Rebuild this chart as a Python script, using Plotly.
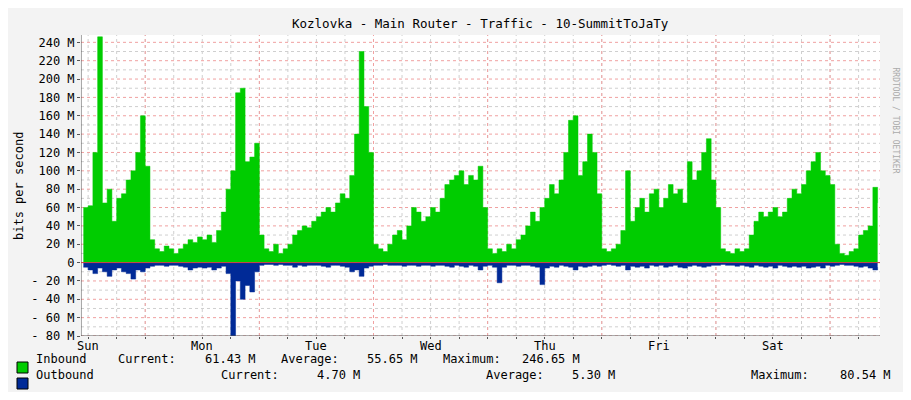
import plotly.graph_objects as go

# hourly values in M bits/s, hour -1 .. 166 (Sun label = hour 0)
inbound = [
    60, 62, 120, 246, 65, 80, 45, 70, 75, 90, 100, 120, 160, 105, 25, 15, 12, 18, 15, 10, 15, 20, 25, 22,
    28, 25, 30, 22, 35, 55, 80, 100, 185, 190, 110, 115, 130, 30, 15, 12, 20, 10, 15, 20, 30, 35, 40, 38,
    45, 50, 55, 60, 55, 65, 75, 70, 95, 140, 230, 170, 120, 20, 15, 12, 20, 30, 35, 25, 40, 60, 55, 45,
    50, 60, 55, 70, 85, 90, 95, 100, 85, 95, 90, 105, 60, 15, 10, 15, 12, 20, 15, 25, 30, 40, 55, 45,
    60, 70, 85, 75, 90, 120, 155, 160, 95, 110, 140, 120, 75, 15, 12, 15, 20, 35, 100, 45, 60, 70, 55, 75,
    80, 60, 70, 85, 75, 80, 65, 110, 90, 100, 120, 135, 90, 60, 15, 12, 10, 15, 12, 15, 30, 45, 55, 50,
    55, 60, 50, 55, 70, 80, 75, 85, 100, 110, 120, 100, 95, 85, 20, 10, 8, 12, 15, 30, 35, 40, 82, 65,
]
outbound = [
    5, 8, 12, 6, 10, 15, 8, 6, 10, 12, 18, 8, 10, 6, 4, 3, 3, 4, 3, 3, 4, 5, 8, 6,
    5, 6, 5, 8, 6, 4, 12, 80, 20, 40, 25, 32, 10, 3, 2, 2, 3, 2, 3, 3, 5, 3, 4, 3,
    3, 3, 4, 5, 3, 3, 4, 5, 10, 8, 15, 6, 4, 3, 3, 2, 3, 3, 3, 4, 3, 3, 4, 3,
    3, 4, 3, 3, 4, 5, 3, 4, 5, 3, 4, 8, 4, 3, 5, 22, 5, 3, 3, 4, 3, 3, 4, 5,
    24, 6, 4, 5, 3, 4, 5, 8, 4, 5, 4, 3, 4, 3, 2, 3, 4, 3, 8, 4, 5, 4, 6, 3,
    4, 3, 5, 4, 3, 5, 6, 4, 3, 4, 5, 4, 3, 3, 2, 3, 3, 4, 3, 4, 5, 3, 4, 5,
    4, 6, 3, 4, 5, 4, 5, 4, 6, 5, 4, 6, 3, 4, 3, 2, 3, 3, 4, 5, 4, 6, 8, 5,
]
hours = [h - 1 for h in range(len(inbound))]
days = ['Sun', 'Mon', 'Tue', 'Wed', 'Thu', 'Fri', 'Sat']
y_ticks = [240, 220, 200, 180, 160, 140, 120, 100, 80, 60, 40, 20, 0, -20, -40, -60, -80]
y_labels = ['%d M' % v if v > 0 else ('0' if v == 0 else '- %d M' % -v) for v in y_ticks]

FONT = 'DejaVu Sans Mono'
OFF = 8  # page body margin
fig = go.Figure()
fig.add_trace(go.Scatter(x=hours, y=inbound, fill='tozeroy', mode='lines', line_shape='hv',
                         line=dict(color='#00CC00', width=0.5), fillcolor='#00CC00'))
fig.add_trace(go.Scatter(x=hours, y=[-v for v in outbound], fill='tozeroy', mode='lines', line_shape='hv',
                         line=dict(color='#002A97', width=0.5), fillcolor='#002A97'))

X0, X1, Y0, Y1 = -1.5, 166.5, -80, 248
shapes = []
# minor grid
for h in range(0, 167, 6):
    shapes.append(dict(type='line', x0=h, x1=h, y0=Y0, y1=Y1, layer='below',
                       line=dict(color='#cfcfcf', width=1, dash='dot')))
for v in range(-70, 250, 20):
    shapes.append(dict(type='line', x0=X0, x1=X1, y0=v, y1=v, layer='below',
                       line=dict(color='#cfcfcf', width=1, dash='dot')))
# major grid
for h in range(12, 167, 24):
    shapes.append(dict(type='line', x0=h, x1=h, y0=Y0, y1=Y1, layer='below',
                       line=dict(color='#f0a0a0', width=1, dash='dot')))
for v in y_ticks:
    shapes.append(dict(type='line', x0=X0, x1=X1, y0=v, y1=v, layer='below',
                       line=dict(color='#f0a0a0', width=1, dash='dot')))
# axes
shapes.append(dict(type='line', x0=X0, x1=X0, y0=Y0, y1=Y1 + 3, line=dict(color='#555', width=1)))
shapes.append(dict(type='line', x0=X0, x1=X1 + 1, y0=0, y1=0, line=dict(color='#cc4444', width=1)))
shapes.append(dict(type='line', x0=X0, x1=X1 + 1, y0=Y0, y1=Y0, line=dict(color='#555', width=1)))
# arrows
shapes.append(dict(type='path', path='M -2.4 %f L -0.6 %f L -1.5 %f Z' % (Y1 + 2, Y1 + 2, Y1 + 7),
                   fillcolor='#8b1a1a', line=dict(width=0)))
shapes.append(dict(type='path', path='M 167 -77.5 L 167 -82.5 L 168.2 -80 Z',
                   fillcolor='#8b1a1a', line=dict(width=0)))

def px(x):
    return (x - 81) / 799.0

def py(y):
    return (336 - y) / 301.0

ann = []
for i, d in enumerate(days):
    ann.append(dict(x=24 * i, y=Y0, xref='x', yref='y', yshift=-10, text=d, showarrow=False,
                    font=dict(family=FONT, size=12, color='#000')))
ann.append(dict(x=0.5, y=py(14), xref='paper', yref='paper', text='Kozlovka - Main Router - Traffic - 10-SummitToJaTy',
                showarrow=False, font=dict(family=FONT, size=12.5, color='#000'), xanchor='center'))
ann.append(dict(x=px(10), y=py(186), xref='paper', yref='paper', text='bits per second', textangle=-90,
                showarrow=False, font=dict(family=FONT, size=12, color='#000')))
ann.append(dict(x=px(902), y=py(65), xref='paper', yref='paper', text='RRDTOOL / TOBI OETIKER', textangle=90,
                showarrow=False, font=dict(family=FONT, size=8, color='#aaa')))
legend_rows = [
    (368, [(34, 'Inbound'), (116, 'Current:'), (203, '61.43 M'), (279, 'Average:'), (365, '55.65 M'),
           (441, 'Maximum:'), (520, '246.65 M')]),
    (384, [(34, 'Outbound'), (219, 'Current:'), (315, '4.70 M'), (484, 'Average:'), (570, '5.30 M'),
           (749, 'Maximum:'), (838, '80.54 M')]),
]
for ypix, items in legend_rows:
    for xpix, t in items:
        ann.append(dict(x=px(xpix), y=py(ypix), xref='paper', yref='paper', text=t, showarrow=False,
                        xanchor='left', font=dict(family=FONT, size=12, color='#000')))
for ypix, col in [(368, '#00CC00'), (384, '#002A97')]:
    shapes.append(dict(type='rect', xref='paper', yref='paper', x0=px(17), x1=px(28),
                       y0=py(ypix + 5), y1=py(ypix - 6), fillcolor=col, line=dict(color='#000', width=1)))

fig.update_layout(
    width=911 - 2 * OFF, height=400 - 2 * OFF,
    margin=dict(l=81 - OFF, r=31 - OFF, t=35 - OFF, b=64 - OFF),
    paper_bgcolor='#f3f3f3', plot_bgcolor='#ffffff',
    showlegend=False,
    shapes=shapes, annotations=ann,
    xaxis=dict(range=[X0, X1], showgrid=False, zeroline=False, showticklabels=False,
               ticks='outside', tickvals=list(range(0, 167, 6)), ticklen=2, tickcolor='#555'),
    yaxis=dict(range=[Y0, Y1], showgrid=False, zeroline=False, tickvals=y_ticks, ticktext=y_labels,
               ticks='outside', ticklen=3, tickcolor='#555',
               tickfont=dict(family=FONT, size=12, color='#000')),
)

fig.write_html("out.html")
